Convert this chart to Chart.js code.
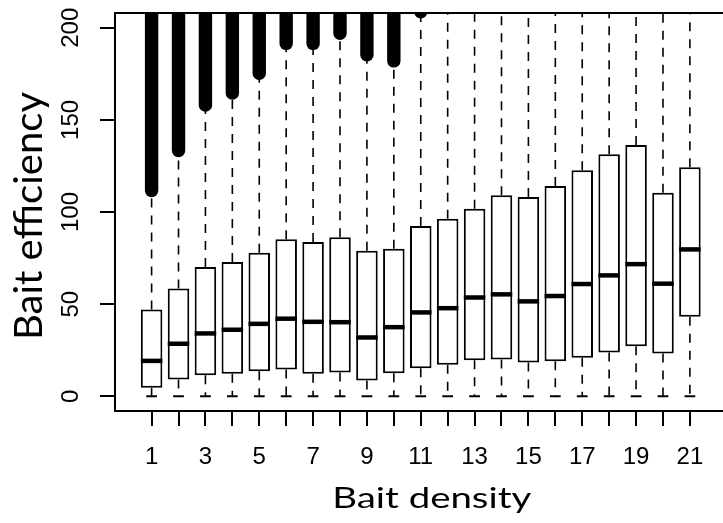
<!DOCTYPE html>
<html lang="en">
<head>
  <meta charset="UTF-8">
  <title>Bait efficiency by bait density</title>
  <script src="https://cdn.jsdelivr.net/npm/chart.js"></script>
  <style>
    body {
      margin: 0;
      background: #fff;
    }
  </style>
</head>
<body>
  <canvas id="boxChart" width="723" height="523"></canvas>

  <script>
    // Bait density classes and which of them get a printed label
    const densities = [1, 2, 3, 4, 5, 6, 7, 8, 9, 10, 11, 12, 13, 14, 15, 16, 17, 18, 19, 20, 21];
    const xTickLabels = ['1', '3', '5', '7', '9', '11', '13', '15', '17', '19', '21'];
    const yTicks = [0, 50, 100, 150, 200];

    // Box statistics of bait efficiency per density
    const whiskerLow = [0, 0, 0, 0, 0, 0, 0, 0, 0, 0, 0, 0, 0, 0, 0, 0, 0, 0, 0, 0, 0];
    const q1 = [4.6, 9.1, 11.4, 12.2, 13.6, 14.5, 12.2, 12.9, 8.5, 12.5, 15.2, 17.1, 19.6, 19.9, 18.3, 19.0, 20.9, 23.8, 27.2, 23.2, 43.2];
    const median = [19.2, 28.5, 34.1, 36.1, 39.3, 42.1, 40.4, 40.2, 31.9, 37.5, 45.5, 47.8, 53.6, 55.3, 51.5, 54.4, 60.9, 65.6, 71.7, 61.1, 79.7];
    const q3 = [47.1, 58.5, 70.1, 72.8, 77.9, 85.2, 83.7, 86.3, 79.0, 80.1, 92.4, 96.4, 101.8, 109.1, 108.2, 114.1, 122.7, 131.4, 136.3, 110.5, 124.3];
    const whiskerHigh = [110.5, 132.5, 157, 163.5, 174.5, 190.5, 190.5, 196, 184.5, 181, 208, 215, 225, 243, 243, 257, 275, 293, 300, 241, 246];
    // lowest outlier of each group; outliers run on past the top of the axis
    const outlierLow = [111.7, 133.4, 158, 164.6, 175.3, 191.5, 191.5, 197, 185.3, 182, 208.7,
                        null, null, null, null, null, null, null, null, null, null];

    const ink = '#000';

    function line(ctx, x1, y1, x2, y2) {
      ctx.beginPath();
      ctx.moveTo(x1, y1);
      ctx.lineTo(x2, y2);
      ctx.stroke();
    }

    function clipArea(ctx, a) {
      ctx.beginPath();
      ctx.rect(a.left, a.top, a.right - a.left, a.bottom - a.top);
      ctx.clip();
    }

    // dashed whiskers and staples go under the boxes
    const whiskerPlugin = {
      id: 'whiskers',
      beforeDatasetsDraw(chart) {
        const { ctx, chartArea, scales: { x, y } } = chart;
        const bars = chart.getDatasetMeta(0).data;
        ctx.save();
        clipArea(ctx, chartArea);
        ctx.strokeStyle = ink;
        densities.forEach((d, i) => {
          const cx = x.getPixelForValue(d);
          const half = bars[i].width / 4;
          ctx.lineWidth = 1.6;
          ctx.setLineDash([9, 8]);
          line(ctx, cx, y.getPixelForValue(q3[i]), cx, y.getPixelForValue(whiskerHigh[i]));
          line(ctx, cx, y.getPixelForValue(q1[i]), cx, y.getPixelForValue(whiskerLow[i]));
          ctx.setLineDash([]);
          ctx.lineWidth = 2;
          const lo = y.getPixelForValue(whiskerLow[i]);
          const hi = y.getPixelForValue(whiskerHigh[i]);
          line(ctx, cx - half, lo, cx + half, lo);
          line(ctx, cx - half, hi, cx + half, hi);
        });
        ctx.restore();
      },
      afterDatasetsDraw(chart) {
        const { ctx, chartArea, scales: { x, y } } = chart;
        const bars = chart.getDatasetMeta(0).data;
        ctx.save();
        clipArea(ctx, chartArea);
        ctx.strokeStyle = ink;
        densities.forEach((d, i) => {
          const cx = x.getPixelForValue(d);
          const w = bars[i].width;
          // median bar
          ctx.lineWidth = 4.5;
          const my = y.getPixelForValue(median[i]);
          line(ctx, cx - w / 2, my, cx + w / 2, my);
          // outliers are packed so tight they merge into one column
          if (outlierLow[i] !== null) {
            ctx.lineWidth = 13.4;
            ctx.lineCap = 'round';
            line(ctx, cx, y.getPixelForValue(outlierLow[i]), cx, y.getPixelForValue(y.max) - 10);
            ctx.lineCap = 'butt';
          }
        });
        ctx.restore();

        // top edge of the plot frame
        ctx.save();
        ctx.strokeStyle = ink;
        ctx.lineWidth = 2;
        line(ctx, chartArea.left, chartArea.top, chartArea.right, chartArea.top);
        ctx.restore();
      }
    };

    // axis titles
    const titlePlugin = {
      id: 'axisTitles',
      afterDraw(chart) {
        const { ctx } = chart;
        ctx.save();
        ctx.fillStyle = ink;
        ctx.textBaseline = 'alphabetic';
        ctx.textAlign = 'left';

        ctx.font = '28px Lato';
        let text = 'Bait density';
        let m = ctx.measureText(text);
        let inkW = m.actualBoundingBoxLeft + m.actualBoundingBoxRight;
        ctx.save();
        ctx.translate(335, 508);
        ctx.scale(197 / inkW, 1);
        ctx.fillText(text, m.actualBoundingBoxLeft, 0);
        ctx.restore();

        ctx.font = '39px Lato';
        text = 'Bait efficiency';
        m = ctx.measureText(text);
        inkW = m.actualBoundingBoxLeft + m.actualBoundingBoxRight;
        ctx.save();
        ctx.translate(42, 337);
        ctx.rotate(-Math.PI / 2);
        ctx.scale(245 / inkW, 1);
        ctx.fillText(text, m.actualBoundingBoxLeft, 0);
        ctx.restore();

        ctx.restore();
      }
    };

    const tickFont = { family: '"Liberation Sans", Arial, sans-serif', size: 24 };

    new Chart(document.getElementById('boxChart'), {
      type: 'bar',
      data: {
        datasets: [{
          data: densities.map((d, i) => ({ x: d, y: [q1[i], q3[i]] })),
          backgroundColor: '#fff',
          borderColor: ink,
          borderWidth: 2,
          borderSkipped: false,
          barPercentage: 0.8,
          categoryPercentage: 1
        }]
      },
      options: {
        responsive: false,
        animation: false,
        layout: { padding: { top: 13, left: 0, right: 0, bottom: 0 } },
        plugins: {
          legend: { display: false },
          tooltip: { enabled: false }
        },
        scales: {
          x: {
            type: 'linear',
            min: -0.36,
            max: 22.23,
            offset: false,
            afterBuildTicks: s => { s.ticks = densities.map(v => ({ value: v })); },
            afterFit: s => { s.height = 112; s.paddingLeft = 0; s.paddingRight = 0; },
            grid: { drawOnChartArea: false, tickLength: 15, color: ink, lineWidth: 2, offset: false },
            border: { display: true, color: ink, width: 2 },
            ticks: {
              autoSkip: false,
              maxRotation: 0,
              padding: 17,
              color: ink,
              font: tickFont,
              callback: v => xTickLabels.includes(String(v)) ? String(v) : ''
            }
          },
          y: {
            min: -8,
            max: 208,
            afterBuildTicks: s => { s.ticks = yTicks.map(v => ({ value: v })); },
            afterFit: s => { s.width = 115; s.paddingTop = 0; s.paddingBottom = 0; },
            grid: { drawOnChartArea: false, tickLength: 15, color: ink, lineWidth: 2 },
            border: { display: true, color: ink, width: 2 },
            ticks: {
              minRotation: 90,
              maxRotation: 90,
              crossAlign: 'center',
              padding: 9,
              color: ink,
              font: tickFont
            }
          }
        }
      },
      plugins: [whiskerPlugin, titlePlugin]
    });
  </script>
</body>
</html>
